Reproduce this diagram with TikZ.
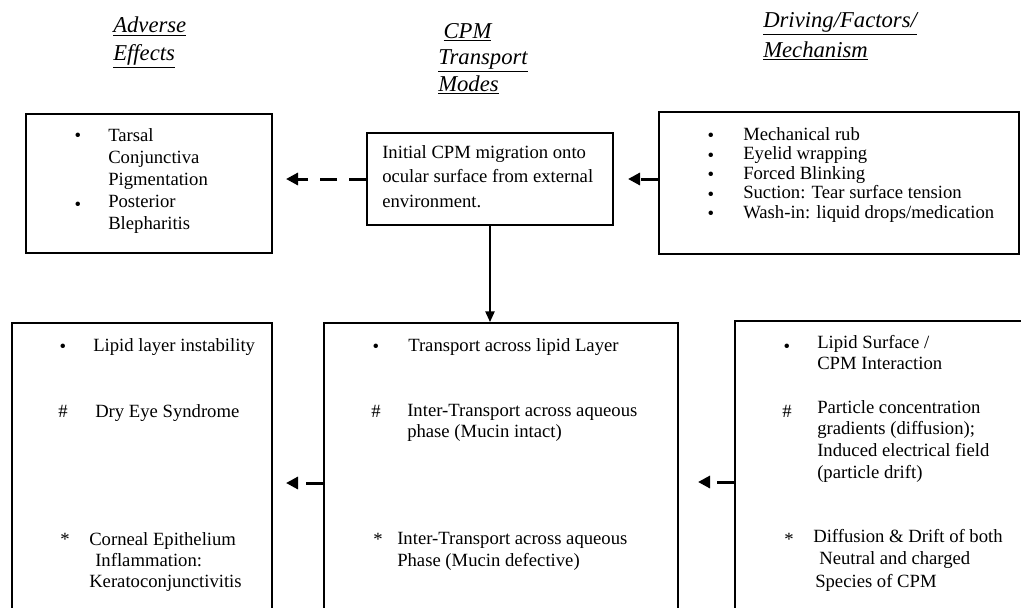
\documentclass[tikz,border=0pt]{standalone}
\usepackage{fontspec}
\setmainfont{Liberation Serif}
\usepackage{tikz}
\usetikzlibrary{arrows.meta,fit}
\newcommand{\fs}[1]{\fontsize{14pt}{#1}\selectfont}

\begin{document}
\begin{tikzpicture}[x=0.75pt,y=-0.75pt,font=\fs{16.5pt},
  box/.style={draw,line width=1.5pt,inner sep=0pt},
  txt/.style={anchor=north west,inner sep=0pt,align=left},
  sym/.style={anchor=base,inner sep=0pt},
  head/.style={anchor=north west,inner sep=0pt,align=left},
  dasharr/.style={line width=2.25pt,dash pattern=on 12.75pt off 9pt,-{Triangle[length=9pt,width=9pt]}},
  downarr/.style={line width=1.1pt,-{Triangle[length=8pt,width=7pt]}}]
  \useasboundingbox (0,0) rectangle (1021,607);
  \clip (0,0) rectangle (1021,607);
  % column heads
  \node[head,font=\fontsize{17pt}{21pt}\selectfont\itshape] (hAE) at (113,17) {\underline{Adverse}\\\underline{Effects}};
  \node[head,font=\fontsize{17pt}{19.9pt}\selectfont\itshape] (hCPM) at (438,23) {\hspace*{4pt}\underline{CPM}\\\underline{Transport}\\\underline{Modes}};
  \node[head,font=\fontsize{17pt}{22.5pt}\selectfont\itshape] (hDF) at (763,12) {\underline{Driving/Factors/}\\\underline{Mechanism}};
  % boxes (lower row runs past the bottom edge)
  \node[box,fit={(26,114) (272,253)}] (effect) {};
  \node[box,fit={(367,133) (613,225)}] (initial) {};
  \node[box,fit={(659,112) (1019,254)}] (driving) {};
  \node[box,fit={(12,323) (272,643)}] (effect2) {};
  \node[box,fit={(324,323) (678,643)}] (mode2) {};
  \node[box,fit={(735,321) (1040,643)}] (driving2) {};
  % top row text
  \node[txt] (tarsal) at (108,128) {Tarsal\\Conjunctiva\\Pigmentation\\Posterior\\Blepharitis};
  \node[txt,font=\fs{18.4pt}] (migr) at (382,145) {Initial CPM migration onto\\ocular surface from external\\environment.};
  \node[txt,font=\fs{14.6pt}] (mech) at (743,127) {Mechanical rub\\Eyelid wrapping\\Forced Blinking\\Suction: Tear surface tension\\Wash-in: liquid drops/medication};
  \foreach \y in {141,210} \node[sym] (bl\y) at (78,\y) {\textbullet};
  \foreach \y in {141,161,180,200,219} \node[sym] (br\y) at (711,\y) {\textbullet};
  % bottom row text
  \node[txt] (lipid) at (93,338) {Lipid layer instability};
  \node[txt] (dry) at (95,404) {Dry Eye Syndrome};
  \node[txt,font=\fs{16pt}] (corneal) at (89,532) {Corneal Epithelium\\\hspace*{4.5pt}Inflammation:\\Keratoconjunctivitis};
  \node[txt] (across) at (408,338) {Transport across lipid Layer};
  \node[txt,font=\fs{16pt}] (intact) at (407,404) {Inter-Transport across aqueous\\phase (Mucin intact)};
  \node[txt,font=\fs{16.5pt}] (defect) at (397,532) {Inter-Transport across aqueous\\Phase (Mucin defective)};
  \node[txt,font=\fs{16pt}] (surf) at (817,335) {Lipid Surface /\\CPM Interaction};
  \node[txt,font=\fs{16.3pt}] (grad) at (817,400) {Particle concentration\\gradients (diffusion);\\Induced electrical field\\(particle drift)};
  \node[txt,font=\fs{16.9pt}] (drift) at (813,529) {Diffusion \& Drift of both\\\hspace*{4.5pt}Neutral and charged\\\hspace*{1.5pt}Species of CPM};
  \foreach \x/\s in {63/a,376/b,787/c} {
    \node[sym] (dot\s) at (\x,352) {\textbullet};
    \node[sym] (hash\s) at (\x,417) {\#};
    \node[sym] (star\s) at (\x+2,545) {*};
  }
  % connectors
  \draw[dasharr,shorten >=9.75pt] (initial.west) -- (initial.west -| effect.east);
  \draw[dasharr,shorten >=10.5pt] (initial.east -| driving.west) -- (initial.east);
  \draw[downarr] (initial.south) -- (initial.south |- mode2.north);
  \draw[dasharr,shorten >=9.75pt] (mode2.west) -- (mode2.west -| effect2.east);
  \draw[dasharr,shorten >=14.25pt] (driving2.west) -- (driving2.west -| mode2.east);
\end{tikzpicture}
\end{document}
